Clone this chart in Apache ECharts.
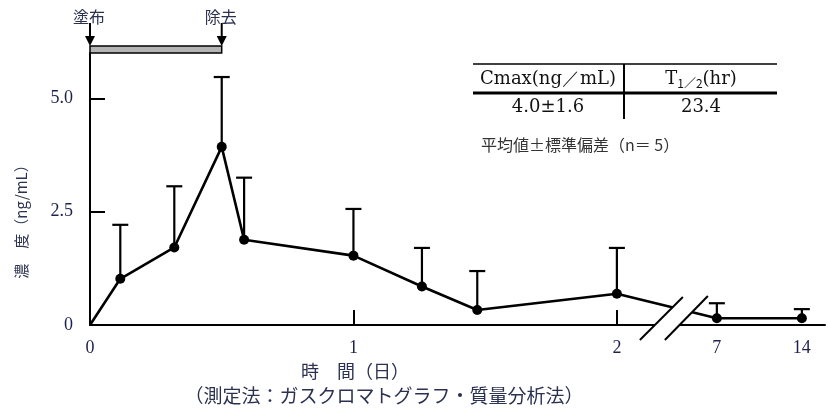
<!DOCTYPE html>
<html><head><meta charset="utf-8">
<script src="https://cdn.jsdelivr.net/npm/echarts@6/dist/echarts.min.js"></script>
<style>html,body{margin:0;padding:0;background:#fff}#c{width:828px;height:412px}</style>
</head><body><div id="c"></div>
<script>
// ---- data (time in days, concentration ng/mL) ----
const times = [0, 0.115, 0.32, 0.5, 0.585, 1.0, 1.26, 1.47, 2.0, 7, 14];
const means = [0, 1.02, 1.71, 3.93, 1.88, 1.53, 0.85, 0.33, 0.69, 0.15, 0.15];
const sds   = [0, 1.19, 1.35, 1.54, 1.37, 1.03, 0.85, 0.86, 1.01, 0.33, 0.20];
const xTickTimes  = [0, 1, 2, 7, 14];
const xTickLabels = ['0', '1', '2', '7', '14'];
const yTickValues = [0, 2.5, 5];
const yTickLabels = ['0', '2.5', '5.0'];
const applyPeriod = [0, 0.5];           // 塗布 -> 除去 (days)
const applyLabels = ['塗布', '除去'];
const tableHeader = ['Cmax(ng／mL)', 'T'];
const tableRow    = ['4.0±1.6', '23.4'];
const noteText    = '平均値±標準偏差（n＝ 5）';

// broken time axis: linear 0-2 days, gap, then compressed 7-14 days
const BREAK_FROM = 2, BREAK_TO = 7, BREAK_GAP = 0.3795, LATE_SCALE = 0.0461;
function axisPos(t) {
  return t <= BREAK_FROM ? t : BREAK_FROM + BREAK_GAP + (t - BREAK_TO) * LATE_SCALE;
}
function labelFor(vals, labels, v) {
  for (let i = 0; i < vals.length; i++) if (Math.abs(vals[i] - v) < 1e-6) return labels[i];
  return '';
}

const NAVY = '#1d2150';
const SERIF = 'Liberation Serif, serif';
const WSERIF = 'DejaVu Serif, serif';
const CJK = '"Noto Sans CJK JP", sans-serif';

const lineData = times.map((t, i) => i === 0
  ? { value: [axisPos(t), means[i]], symbol: 'none' }
  : { value: [axisPos(t), means[i]] });
const errData = [];
times.forEach((t, i) => { if (sds[i] > 0) errData.push([axisPos(t), means[i], means[i] + sds[i]]); });
const xPosTicks = xTickTimes.map(axisPos);

const chart = echarts.init(document.getElementById('c'), null, { renderer: 'canvas' });
chart.setOption({
  animation: false,
  backgroundColor: '#fff',
  grid: { left: 90, right: 3, top: 53, bottom: 87, containLabel: false },
  xAxis: {
    type: 'value', min: 0, max: 2.79,
    axisLine: { show: true, lineStyle: { color: '#000', width: 2 } },
    axisTick: { show: true, inside: true, length: 15, customValues: [0, 1, 2], lineStyle: { color: '#000', width: 2 } },
    axisLabel: { customValues: xPosTicks, margin: 14, color: NAVY, fontFamily: SERIF, fontSize: 18,
      formatter: v => labelFor(xPosTicks, xTickLabels, v) },
    splitLine: { show: false }
  },
  yAxis: {
    type: 'value', min: 0, max: 6,
    axisLine: { show: true, lineStyle: { color: '#000', width: 2 } },
    axisTick: { show: true, inside: true, length: 15, customValues: [2.5, 5], lineStyle: { color: '#000', width: 2 } },
    axisLabel: { customValues: yTickValues, margin: 17, color: NAVY, fontFamily: SERIF, fontSize: 18,
      formatter: v => labelFor(yTickValues, yTickLabels, v) },
    splitLine: { show: false }
  },
  series: [
    { type: 'line', data: lineData, symbol: 'circle', symbolSize: 10,
      itemStyle: { color: '#000' }, lineStyle: { color: '#000', width: 2.6 }, z: 3 },
    { type: 'custom', data: errData, z: 2,
      renderItem: function (params, api) {
        const p0 = api.coord([api.value(0), api.value(1)]);
        const p1 = api.coord([api.value(0), api.value(2)]);
        const st = { stroke: '#000', lineWidth: 2.2 };
        return { type: 'group', children: [
          { type: 'line', shape: { x1: p0[0], y1: p0[1], x2: p1[0], y2: p1[1] }, style: st },
          { type: 'line', shape: { x1: p1[0] - 8, y1: p1[1], x2: p1[0] + 8, y2: p1[1] }, style: st }
        ] };
      } }
  ]
});

// ---- decorations positioned through the axes ----
const a0 = chart.convertToPixel({ gridIndex: 0 }, [axisPos(applyPeriod[0]), 6]);
const a1 = chart.convertToPixel({ gridIndex: 0 }, [axisPos(applyPeriod[1]), 6]);
const bL = chart.convertToPixel({ gridIndex: 0 }, [axisPos(BREAK_FROM), 0]);
const bR = chart.convertToPixel({ gridIndex: 0 }, [axisPos(BREAK_TO), 0]);
const bx = (bL[0] + bR[0]) / 2 + 7, by = bL[1] - 7;

function arrow(x, yTop, yBot) {
  return [
    { type: 'line', shape: { x1: x, y1: yTop, x2: x, y2: yBot - 6 }, style: { stroke: '#000', lineWidth: 2 }, z: 50 },
    { type: 'polygon', shape: { points: [[x - 5, yBot - 10], [x + 5, yBot - 10], [x, yBot]] }, style: { fill: '#000' }, z: 50 }
  ];
}
const g = [];
g.push({ type: 'rect', shape: { x: a0[0], y: a0[1] - 7, width: a1[0] - a0[0], height: 7 },
  style: { fill: '#b4b4b4', stroke: '#000', lineWidth: 1.5 }, z: 50 });
g.push(...arrow(a0[0], 23, a0[1] - 7));
g.push(...arrow(a1[0], 23, a1[1] - 7));
g.push({ type: 'text', x: a0[0] - 1, y: 17, style: { text: applyLabels[0], font: '16px ' + CJK, fill: '#2b3150', align: 'center', verticalAlign: 'middle' }, z: 50 });
g.push({ type: 'text', x: a1[0] - 1, y: 17, style: { text: applyLabels[1], font: '16px ' + CJK, fill: '#2b3150', align: 'center', verticalAlign: 'middle' }, z: 50 });

// axis break mark
g.push({ type: 'polygon', shape: { points: [[bx - 34, by + 22], [bx + 9, by - 21], [bx + 34, by - 22], [bx - 9, by + 22]] },
  style: { fill: '#fff' }, z: 60 });
g.push({ type: 'line', shape: { x1: bx - 34, y1: by + 22, x2: bx + 9, y2: by - 21 }, style: { stroke: '#000', lineWidth: 2 }, z: 61 });
g.push({ type: 'line', shape: { x1: bx - 9, y1: by + 22, x2: bx + 34, y2: by - 22 }, style: { stroke: '#000', lineWidth: 2 }, z: 61 });

// axis names
g.push({ type: 'text', x: 21, y: 218, rotation: Math.PI / 2,
  style: { text: '濃　度（ng/mL）', font: '15px ' + CJK, fill: '#2b3150', align: 'center', verticalAlign: 'middle' }, z: 50 });
g.push({ type: 'text', x: 355, y: 371,
  style: { text: '時　間（日）', font: '18px ' + CJK, fill: '#2b3150', align: 'center', verticalAlign: 'middle' }, z: 50 });
g.push({ type: 'text', x: 384, y: 396,
  style: { text: '（測定法：ガスクロマトグラフ・質量分析法）', font: '19px ' + CJK, fill: '#2b3150', align: 'center', verticalAlign: 'middle' }, z: 50 });

// summary table
g.push({ type: 'line', shape: { x1: 473, y1: 64, x2: 777, y2: 64 }, style: { stroke: '#000', lineWidth: 1.5 }, z: 50 });
g.push({ type: 'line', shape: { x1: 473, y1: 93, x2: 777, y2: 93 }, style: { stroke: '#000', lineWidth: 3 }, z: 50 });
g.push({ type: 'line', shape: { x1: 624, y1: 64, x2: 624, y2: 119 }, style: { stroke: '#000', lineWidth: 2 }, z: 50 });
g.push({ type: 'text', x: 548, y: 79, style: { text: tableHeader[0], font: '18px ' + WSERIF, fill: '#111', align: 'center', verticalAlign: 'middle' }, z: 50 });
g.push({ type: 'text', x: 701, y: 79, style: {
  text: '{a|' + tableHeader[1] + '}{s|1／2}{a|(hr)}', align: 'center', verticalAlign: 'middle',
  rich: { a: { font: '18px ' + WSERIF, fill: '#111', color: '#111' },
          s: { font: '12px ' + CJK, fill: '#111', color: '#111', padding: [9, 0, 0, 0] } } }, z: 50 });
g.push({ type: 'text', x: 548, y: 107, style: { text: tableRow[0], font: '18px ' + WSERIF, fill: '#111', align: 'center', verticalAlign: 'middle' }, z: 50 });
g.push({ type: 'text', x: 701, y: 107, style: { text: tableRow[1], font: '18px ' + WSERIF, fill: '#111', align: 'center', verticalAlign: 'middle' }, z: 50 });
g.push({ type: 'text', x: 481, y: 145, style: { text: noteText, font: '16px ' + CJK, fill: '#333', align: 'left', verticalAlign: 'middle' }, z: 50 });

chart.setOption({ graphic: g });
</script></body></html>
